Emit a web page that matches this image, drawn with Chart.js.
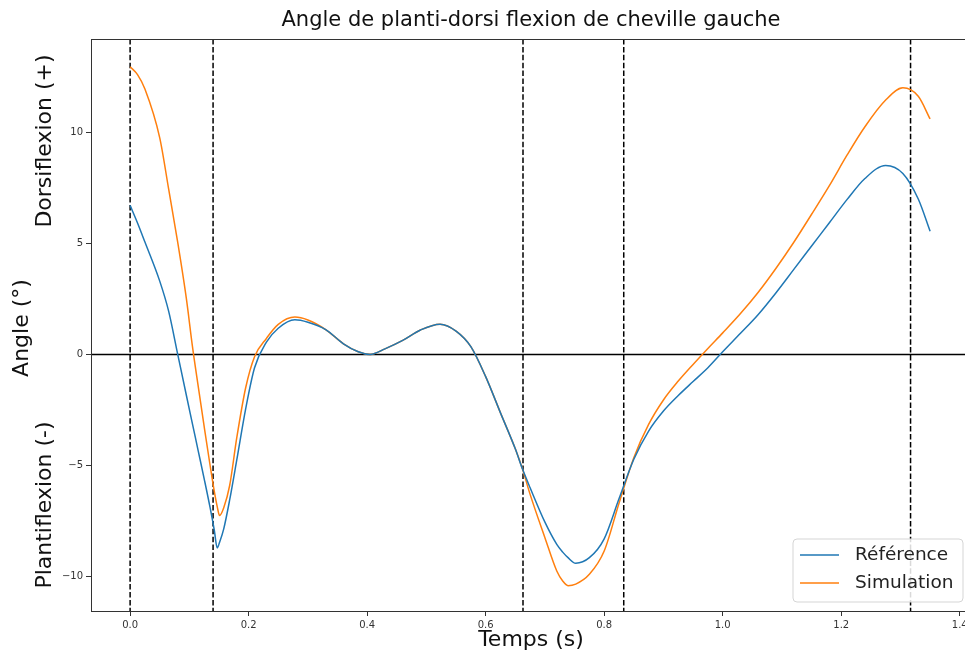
<!DOCTYPE html>
<html>
<head>
<meta charset="utf-8">
<script src="https://cdn.jsdelivr.net/npm/chart.js@4/dist/chart.umd.min.js"></script>
<style>
  html, body { margin: 0; padding: 0; overflow: hidden; background: #fff; }
</style>
</head>
<body>
<canvas id="chart" width="980" height="653"></canvas>
<script>
// time (s) of each sample
const times = [0, 0.0125, 0.025, 0.05, 0.065, 0.08, 0.095, 0.105, 0.115, 0.125, 0.135,
  0.142, 0.147, 0.151, 0.158, 0.168, 0.18, 0.195, 0.21, 0.23, 0.25,
  0.278, 0.30, 0.33, 0.36, 0.385, 0.405, 0.43, 0.46, 0.49, 0.523,
  0.55, 0.575, 0.6, 0.625, 0.65, 0.662, 0.675, 0.7, 0.72, 0.73,
  0.739, 0.752, 0.775, 0.8, 0.825, 0.85, 0.875, 0.9, 0.925, 0.95,
  0.975, 1.0, 1.03, 1.06, 1.09, 1.12, 1.15, 1.18, 1.21, 1.24,
  1.275, 1.304, 1.33, 1.35];

// ankle angle (deg)
const reference = [6.71, 5.92, 5.06, 3.3, 1.95, 0.05, -1.85, -3.1, -4.35, -5.6, -6.9,
  -7.9, -8.71, -8.45, -7.85, -6.55, -4.75, -2.45, -0.6, 0.55, 1.18,
  1.56, 1.45, 1.12, 0.48, 0.12, 0.0, 0.25, 0.63, 1.1, 1.36,
  1.05, 0.35, -1.0, -2.63, -4.25, -5.15, -6.0, -7.55, -8.55, -8.9,
  -9.15, -9.4, -9.15, -8.3, -6.5, -4.72, -3.45, -2.55, -1.85, -1.22,
  -0.6, 0.12, 0.95, 1.8, 2.78, 3.83, 4.88, 5.93, 6.98, 7.92,
  8.51, 8.15, 7.0, 5.55];

const simulation = [12.95, 12.6, 11.95, 9.75, 7.45, 5.1, 2.5, 0.4, -1.45, -3.25, -5.0,
  -6.15, -6.85, -7.25, -6.9, -5.9, -3.75, -1.5, -0.1, 0.72, 1.35,
  1.68, 1.55, 1.12, 0.48, 0.12, 0.0, 0.25, 0.63, 1.1, 1.36,
  1.05, 0.35, -1.0, -2.63, -4.25, -5.15, -6.3, -8.25, -9.75, -10.2,
  -10.41, -10.34, -9.9, -8.85, -6.7, -4.65, -3.15, -2.05, -1.2, -0.45,
  0.27, 0.97, 1.84, 2.8, 3.88, 5.05, 6.31, 7.6, 8.98, 10.25,
  11.45, 12.0, 11.62, 10.6];

// gait events (dashed verticals)
const eventTimes = [0, 0.14, 0.663, 0.833, 1.317];

const xTicks = [0, 0.2, 0.4, 0.6, 0.8, 1.0, 1.2, 1.4];
const yTicks = [-10, -5, 0, 5, 10];

const FONT = "'DejaVu Sans', sans-serif";

const overlay = {
  id: 'overlay',
  beforeDatasetsDraw(chart) {
    const { ctx, chartArea: a, scales: { x, y } } = chart;
    ctx.save();
    // zero line
    const y0 = y.getPixelForValue(0);
    ctx.strokeStyle = '#000';
    ctx.lineWidth = 1.5;
    ctx.beginPath();
    ctx.moveTo(a.left, y0);
    ctx.lineTo(a.right, y0);
    ctx.stroke();
    // events
    ctx.setLineDash([5.5, 2.4]);
    eventTimes.forEach(t => {
      const px = x.getPixelForValue(t);
      ctx.beginPath();
      ctx.moveTo(px, a.top);
      ctx.lineTo(px, a.bottom);
      ctx.stroke();
    });
    ctx.restore();
  },
  afterDraw(chart) {
    const { ctx, chartArea: a } = chart;
    ctx.save();
    // frame
    ctx.strokeStyle = '#333';
    ctx.lineWidth = 1;
    ctx.strokeRect(a.left + 0.5, a.top + 0.5, a.right - a.left, a.bottom - a.top);

    const cx = (a.left + a.right) / 2;
    ctx.fillStyle = '#111';
    ctx.textAlign = 'center';
    ctx.textBaseline = 'middle';
    ctx.font = '21px ' + FONT;
    ctx.fillText('Angle de planti-dorsi flexion de cheville gauche', cx, 21);
    ctx.font = '22px ' + FONT;
    ctx.fillText('Temps (s)', cx, 640);

    const vText = (txt, px, py) => {
      ctx.save();
      ctx.translate(px, py);
      ctx.rotate(-Math.PI / 2);
      ctx.fillText(txt, 0, 0);
      ctx.restore();
    };
    vText('Angle (°)', 22, 328);
    vText('Dorsiflexion (+)', 45, 141);
    vText('Plantiflexion (-)', 45, 505);

    // legend
    const bx = a.right - 178, by = a.bottom - 72, bw = 170, bh = 63;
    ctx.beginPath();
    ctx.roundRect(bx, by, bw, bh, 4);
    ctx.fillStyle = 'rgba(255,255,255,0.85)';
    ctx.fill();
    ctx.strokeStyle = '#d5d5d5';
    ctx.lineWidth = 1;
    ctx.stroke();
    ctx.font = '18.5px ' + FONT;
    ctx.textAlign = 'left';
    chart.data.datasets.forEach((ds, i) => {
      const ly = by + 16 + i * 28;
      ctx.strokeStyle = ds.borderColor;
      ctx.lineWidth = 1.5;
      ctx.beginPath();
      ctx.moveTo(bx + 7, ly);
      ctx.lineTo(bx + 46, ly);
      ctx.stroke();
      ctx.fillStyle = '#222';
      ctx.fillText(ds.label, bx + 62, ly);
    });
    ctx.restore();
  }
};

const toPoints = vals => times.map((t, i) => ({ x: t, y: vals[i] }));

new Chart(document.getElementById('chart'), {
  type: 'line',
  data: {
    datasets: [
      { label: 'Référence', data: toPoints(reference), borderColor: '#1f77b4' },
      { label: 'Simulation', data: toPoints(simulation), borderColor: '#ff7f0e' }
    ]
  },
  options: {
    responsive: false,
    animation: false,
    layout: { padding: { left: 0, right: 9, top: 39, bottom: 0 } },
    elements: {
      point: { radius: 0 },
      line: { borderWidth: 1.5, cubicInterpolationMode: 'monotone', fill: false }
    },
    plugins: { legend: { display: false }, title: { display: false }, tooltip: { enabled: false } },
    scales: {
      x: {
        type: 'linear',
        min: -0.066,
        max: 1.419,
        afterFit: s => { s.height = 42; },
        afterBuildTicks: s => { s.ticks = xTicks.map(v => ({ value: v })); },
        grid: { drawOnChartArea: false, drawTicks: true, tickLength: 5, color: '#333' },
        border: { display: false },
        ticks: {
          padding: 3, maxRotation: 0, autoSkip: false,
          color: '#333', font: { family: FONT, size: 10 },
          callback: v => v.toFixed(1)
        }
      },
      y: {
        min: -11.55,
        max: 14.2,
        afterFit: s => { s.width = 91; },
        afterBuildTicks: s => { s.ticks = yTicks.map(v => ({ value: v })); },
        grid: { drawOnChartArea: false, drawTicks: true, tickLength: 5, color: '#333' },
        border: { display: false },
        ticks: {
          padding: 3, autoSkip: false,
          color: '#333', font: { family: FONT, size: 10 },
          callback: v => String(v).replace('-', '\u2212')
        }
      }
    }
  },
  plugins: [overlay]
});
</script>
</body>
</html>
